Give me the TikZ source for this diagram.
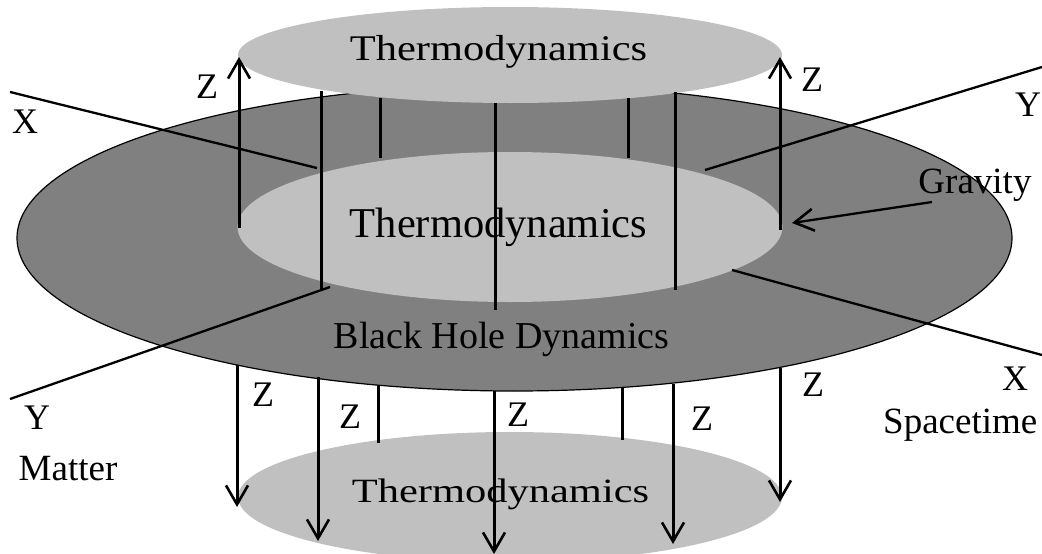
\documentclass[tikz,border=0pt]{standalone}
\usepackage{fontspec}
\setmainfont{Liberation Serif}
\usetikzlibrary{arrows.meta,shapes.geometric}
\definecolor{lightdisk}{RGB}{192,192,192}
\definecolor{darkdisk}{RGB}{128,128,128}
\tikzset{
  disk/.style={ellipse, inner sep=0pt, outer sep=0pt},
  axisline/.style={line width=2.3pt},
  zline/.style={line width=3pt},
  barb/.style={-{Straight Barb[length=19pt,width=22pt,line width=2.6pt]}},
  zarrow/.style={zline,barb},
  lbl/.style={font=\fontsize{36}{40}\selectfont, inner sep=0pt},
  word/.style={font=\fontsize{37}{40}\selectfont, inner sep=0pt, anchor=base},
  title/.style={font=\fontsize{42.5}{46}\selectfont, inner sep=0pt, anchor=base},
}
\begin{document}
\begin{tikzpicture}[x=1pt,y=-1pt]
\useasboundingbox (0,0) rectangle (1042,554);
% disks
\node[disk, fill=darkdisk, draw=black, line width=1.2pt, minimum width=995pt, minimum height=306pt] (bh) at (514.5,238) {};
\node[disk, fill=lightdisk, minimum width=544pt, minimum height=96pt] (top) at (510,55) {};
\node[disk, fill=lightdisk, minimum width=545pt, minimum height=150pt] (mid) at (510,227) {};
\node[disk, fill=lightdisk, minimum width=544pt, minimum height=130pt] (bot) at (510,497) {};
% titles
\node[title] (ttop) at (498.5,60) {\scalebox{1}[0.85]{Thermodynamics}};
\node[title] (tmid) at (498.5,237) {Thermodynamics};
\node[title] (tbot) at (500.5,502) {\scalebox{1}[0.8]{Thermodynamics}};
\node[title, font=\fontsize{38}{42}\selectfont] (tbh) at (501.5,348) {Black Hole Dynamics};
% axis end points
\coordinate (xl1) at (10,92);   \coordinate (xl2) at (317,168);
\coordinate (xr1) at (732,270); \coordinate (xr2) at (1042,355);
\coordinate (yr1) at (705,170); \coordinate (yr2) at (1042,67);
\coordinate (yl1) at (10,399);  \coordinate (yl2) at (330,287);
\draw[axisline] (xl1) -- (xl2);
\draw[axisline] (xr1) -- (xr2);
\draw[axisline] (yr1) -- (yr2);
\draw[axisline] (yl1) -- (yl2);
% upper verticals
\coordinate (ua1) at (239,228); \coordinate (ua2) at (239,57);
\coordinate (ub1) at (780,230); \coordinate (ub2) at (780,57);
\draw[zarrow] (ua1) -- (ua2);
\draw[zarrow] (ub1) -- (ub2);
\coordinate (v1a) at (321,91);  \coordinate (v1b) at (321,290);
\coordinate (v2a) at (380,98);  \coordinate (v2b) at (380,158);
\coordinate (v3a) at (495,103); \coordinate (v3b) at (495,310);
\coordinate (v4a) at (628,98);  \coordinate (v4b) at (628,158);
\coordinate (v5a) at (675,92);  \coordinate (v5b) at (675,290);
\draw[zline] (v1a) -- (v1b);
\draw[zline] (v2a) -- (v2b);
\draw[zline] (v3a) -- (v3b);
\draw[zline] (v4a) -- (v4b);
\draw[zline] (v5a) -- (v5b);
% lower verticals
\coordinate (w1a) at (237,365); \coordinate (w1b) at (237,507);
\coordinate (w2a) at (318,377); \coordinate (w2b) at (318,541);
\coordinate (w3a) at (378,385); \coordinate (w3b) at (378,443);
\coordinate (w4a) at (494,391); \coordinate (w4b) at (494,554);
\coordinate (w5a) at (622,387); \coordinate (w5b) at (622,440);
\coordinate (w6a) at (673,384); \coordinate (w6b) at (673,544);
\coordinate (w7a) at (780,368); \coordinate (w7b) at (780,502);
\draw[zarrow] (w1a) -- (w1b);
\draw[zarrow] (w2a) -- (w2b);
\draw[zline] (w3a) -- (w3b);
\draw[zarrow] (w4a) -- (w4b);
\draw[zline] (w5a) -- (w5b);
\draw[zarrow] (w6a) -- (w6b);
\draw[zarrow] (w7a) -- (w7b);
% labels
\node[lbl] (z1) at (207,87) {Z};
\node[lbl] (z2) at (812,80) {Z};
\node[lbl] (z3) at (263,395) {Z};
\node[lbl] (z4) at (350,417) {Z};
\node[lbl] (z5) at (518,415) {Z};
\node[lbl] (z6) at (702,419) {Z};
\node[lbl] (z7) at (813,385) {Z};
\node[lbl] (xa) at (25,122) {X};
\node[lbl] (xb) at (1015,379) {X};
\node[lbl] (ya) at (1028,105) {Y};
\node[lbl] (yb) at (37,418) {Y};
\node[word] (matter) at (68,480) {Matter};
\node[word, anchor=base west] (space) at (883,433) {Spacetime};
\node[word] (grav) at (975,193) {Gravity};
\coordinate (g1) at (932,202); \coordinate (g2) at (792,223);
\draw[axisline, barb] (g1) -- (g2);
\end{tikzpicture}
\end{document}
